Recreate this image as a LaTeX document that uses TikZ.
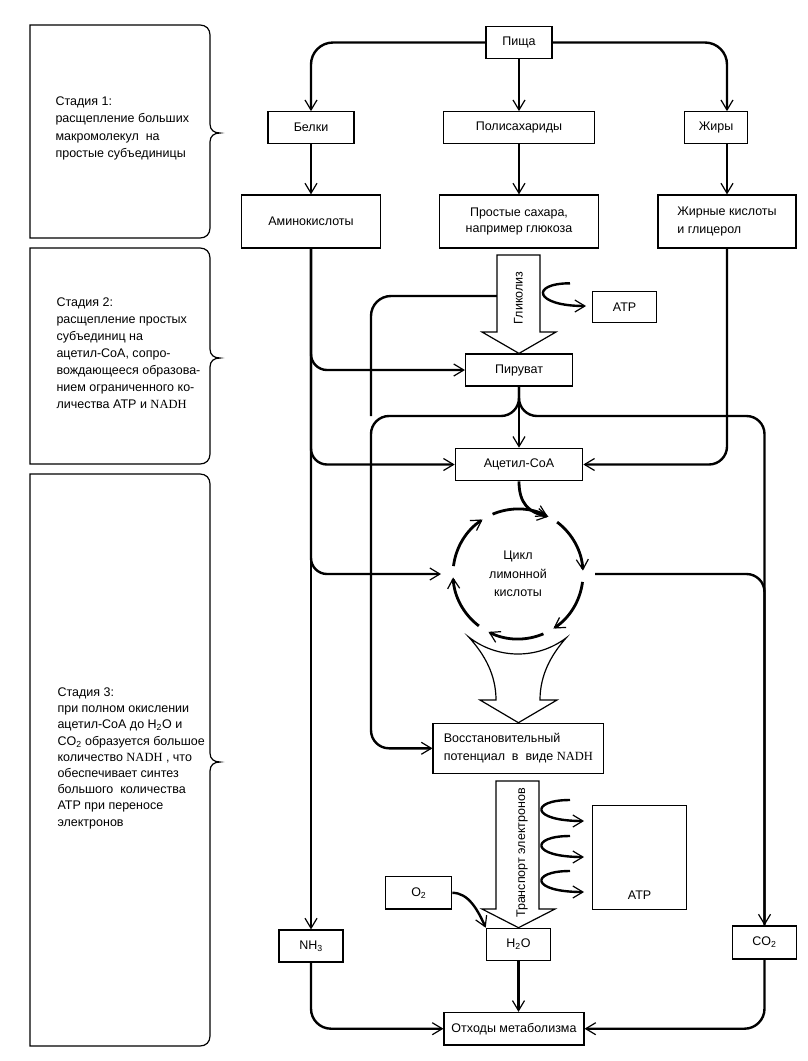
\documentclass[tikz,border=0pt]{standalone}
\usepackage{fontspec}
\setmainfont{Liberation Sans}
\newfontfamily\nadhfont{Liberation Serif}
\usetikzlibrary{arrows.meta,calc}
\newcommand{\NADH}{{\nadhfont NADH}}

\begin{document}
\begin{tikzpicture}[x=1pt,y=1pt,
  font=\fontsize{12.5}{16}\selectfont,
  box/.style={draw,line width=1.2pt,inner sep=0pt,align=center},
  arr/.style={-{Straight Barb[length=10pt,width=12pt,line width=1.2pt]}},
  conn/.style={line width=2.4pt,arr},
  bus/.style={line width=2.4pt},
  big/.style={draw,line width=1.2pt,fill=white},
  cycarr/.style={line width=2.8pt,arr},
  panel/.style={line width=1.2pt},
  stage/.style={anchor=west,align=left}]
\fill[white] (0,0) rectangle (808,-1061);
\useasboundingbox (0,0) rectangle (808,-1061);

\foreach \t/\b/\m in {25/238/133,248/464/358,474/1046/762}
  \draw[panel] (30,-\b) -- (30,-\t) -- (200,-\t) .. controls (206,-\t) and (210,-\t-4) .. (210,-\t-10)
    -- (210,-\m+9) .. controls (210,-\m+3) and (214,-\m) .. (220,-\m)
    .. controls (214,-\m) and (210,-\m-3) .. (210,-\m-9)
    -- (210,-\b+10) .. controls (210,-\b+4) and (206,-\b) .. (200,-\b) -- cycle;
\node[stage,font=\fontsize{12.5}{17.6}\selectfont] (st1) at (52,-128.5)
  {Стадия 1:\\расщепление больших\\макромолекул\ \ на\\простые\ субъединицы};
\node[stage,font=\fontsize{12.5}{17}\selectfont] (st2) at (53,-353)
  {Стадия\ 2:\\расщепление простых\\субъединиц\ на\\ацетил-CoA, сопро-\\вождающееся образова-\\нием ограниченного ко-\\личества ATP и \NADH};
\node[stage,font=\fontsize{12.5}{16.2}\selectfont] (st3) at (54,-758.3)
  {Стадия 3:\\при полном окислении\\ацетил-CoA до H\textsubscript{2}O и\\CO\textsubscript{2} образуется большое\\количество \NADH\ , что\\обеспечивает синтез\\большого\ \ количества\\ATP при переносе\\электронов};

\node[box,minimum width=66pt,minimum height=31.6pt] (food) at (519,-42.5) {Пища};
\node[box,minimum width=86pt,minimum height=31.6pt] (prot) at (311,-127.5) {Белки};
\node[box,minimum width=151pt,minimum height=31.6pt] (poly) at (519,-127.5) {Полисахариды};
\node[box,minimum width=63pt,minimum height=31.6pt] (fat) at (716,-127.5) {Жиры};
\node[box,minimum width=139pt,minimum height=53pt] (amino) at (311,-221.5) {Аминокислоты};
\node[box,minimum width=159pt,minimum height=53pt] (sugar) at (519,-221.5) {Простые сахара,\\например глюкоза};
\node[box,minimum width=138pt,minimum height=53pt,align=left,font=\fontsize{12.5}{18}\selectfont] (facid) at (727,-221.5) {Жирные кислоты\\и глицерол};
\node[box,minimum width=64.4pt,minimum height=31pt] (atpa) at (624.6,-306.7) {ATP};
\node[box,minimum width=107pt,minimum height=32pt] (pyr) at (519,-370) {Пируват};
\node[box,minimum width=127.5pt,minimum height=32.4pt] (acoa) at (519,-464.5) {Ацетил-CoA};
\node[circle,minimum size=130pt,inner sep=0pt,outer sep=0pt,align=center,font=\fontsize{12.5}{18.4}\selectfont] (cyc) at (518,-574) {Цикл\\лимонной\\кислоты};
\node[box,minimum width=170.7pt,minimum height=50pt,align=left,font=\fontsize{12.5}{18.3}\selectfont] (nadh) at (518.4,-748.3) {Восстановительный\\потенциал\ \ в\ \ виде \NADH};
\node[box,minimum width=94.5pt,text height=89pt,text depth=5pt,inner sep=5pt] (atpb) at (639.6,-857.2) {ATP};
\node[box,minimum width=66pt,minimum height=32.3pt] (o2) at (418.8,-892.8) {O\textsubscript{2}};
\node[box,minimum width=64pt,minimum height=32pt] (nh3) at (311,-946) {NH\textsubscript{3}};
\node[box,minimum width=64.4pt,minimum height=32pt] (h2o) at (518.5,-944.3) {H\textsubscript{2}O};
\node[box,minimum width=63.7pt,minimum height=33pt] (co2) at (764.5,-942.5) {CO\textsubscript{2}};
\node[box,minimum width=140pt,minimum height=32.7pt] (waste) at (514,-1028.7) {Отходы метаболизма};

\coordinate (glyout) at (497,-296);
\coordinate (lbus) at (371,-416);
\coordinate (cin) at ([xshift=-12pt]cyc.west);
\coordinate (cout) at ([xshift=12pt]cyc.east);
\coordinate (ftl) at ($(cyc)+(232:80)$);

\draw[conn,rounded corners=22pt] (food) -| (prot);
\draw[conn] (food) -- (poly);
\draw[conn,rounded corners=22pt] (food) -| (fat.north -| facid);
\draw[conn] (prot) -- (amino);
\draw[conn] (poly) -- (sugar);
\draw[conn] (fat.south -| facid) -- (facid);

\draw[conn] (amino) -- (nh3);
\draw[conn,rounded corners=16pt] (amino.south) |- (pyr);
\draw[conn,rounded corners=16pt] (amino.south) |- (acoa);
\draw[conn,rounded corners=16pt] (amino.south) |- (cin);
\draw[conn,rounded corners=18pt] (facid) |- (acoa);

\draw[bus,rounded corners=20pt] (glyout) -| (lbus);
\draw[conn] (pyr) -- (acoa);
\draw[conn,rounded corners=18pt] (pyr.south) |- (lbus) |- (nadh);
\draw[conn,rounded corners=18pt] (pyr.south) |- (co2 |- lbus) -- (co2);
\draw[bus,rounded corners=18pt] (cout) -| (co2);

\draw[big] (497,-255) -- (540,-255) -- (540,-332) -- (556,-332) -- (pyr.north) -- (482,-332) -- (497,-332) -- cycle;
\node[rotate=90] (gly) at (518.5,-298) {Гликолиз};
\coordinate (ug) at (570,-283.3);
\draw[line width=2.4pt,arr] (ug) .. controls +(-40,0) and +(-52,0) .. +(16,-22.7);

\draw[cycarr] (acoa.south) .. controls +(0,-22) and +(-20,4) .. (cyc.62);
\foreach \a in {113,53,353,293,233,173}
  \draw[cycarr] (cyc.\a) arc[start angle=\a,end angle=\a-50,radius=65pt];

\draw[big] (ftl) arc[start angle=232,end angle=307,radius=80pt]
  .. controls (551,-655) and (540,-675) .. (540,-700) -- (557,-700) -- (nadh.north)
  -- (480,-700) -- (496,-700) .. controls (496,-675) and (485,-655) .. (ftl) -- cycle;

\draw[big] (496,-781) -- (539,-781) -- (539,-909) -- (555,-909) -- (h2o.north) -- (482,-909) -- (496,-909) -- cycle;
\node[rotate=90] (et) at (522,-853) {Транспорт электронов};
\foreach \y in {800,836,871} {
  \coordinate (u\y) at (570,-\y);
  \draw[line width=2.4pt,arr] (u\y) .. controls +(-40,0) and +(-54,0) .. +(14,-21);
}

\draw[conn] (o2.east) .. controls +(16,0) and +(-8,18) .. (h2o.north west);
\draw[conn,rounded corners=20pt] (nh3) |- (waste);
\draw[conn] (h2o) -- (h2o |- waste.north);
\draw[conn,rounded corners=20pt] (co2) |- (waste);
\end{tikzpicture}
\end{document}
